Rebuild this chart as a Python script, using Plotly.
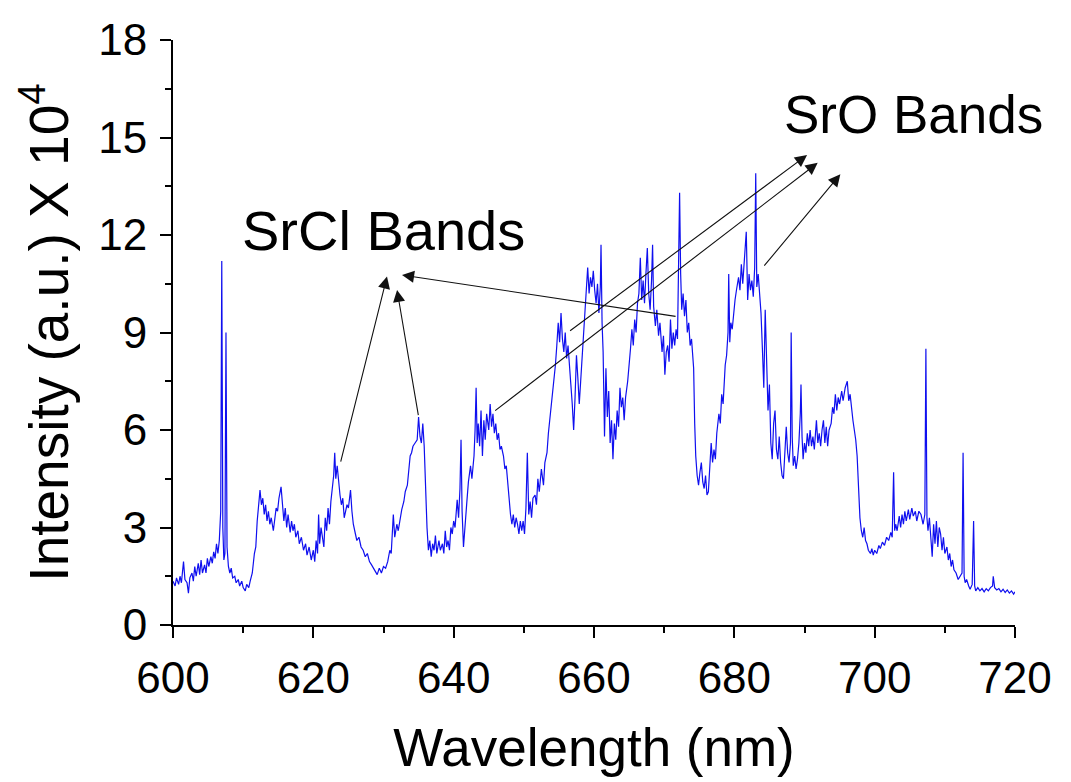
import plotly.graph_objects as go

wavelength = [
600.0,600.3,600.5,600.8,601.0,601.2,601.5,601.7,602.0,602.2,602.4,602.7,602.9,603.1,603.3,603.6,603.8,604.0,604.2,604.5,
604.7,604.9,605.1,605.4,605.6,605.8,606.0,606.2,606.4,606.6,606.8,606.95,607.1,607.25,607.4,607.55,607.7,607.9,608.1,608.3,
608.5,608.8,609.0,609.3,609.5,609.8,610.0,610.3,610.5,610.8,611.0,611.3,611.6,611.8,612.0,612.2,612.4,612.6,612.8,613.0,
613.2,613.4,613.6,613.8,614.0,614.3,614.5,614.7,614.9,615.1,615.4,615.6,615.8,616.0,616.2,616.4,616.7,616.9,617.1,617.3,
617.5,617.8,618.0,618.3,618.6,618.9,619.1,619.4,619.7,620.0,620.2,620.4,620.6,620.75,620.9,621.1,621.3,621.5,621.7,621.9,
622.1,622.3,622.5,622.7,622.9,623.05,623.2,623.4,623.6,623.8,624.0,624.2,624.4,624.6,624.8,625.0,625.3,625.5,625.7,626.0,
626.2,626.5,626.8,627.1,627.4,627.7,628.0,628.3,628.6,628.9,629.1,629.4,629.7,630.0,630.3,630.6,630.9,631.1,631.4,631.6,
631.9,632.1,632.4,632.6,632.9,633.1,633.4,633.6,633.8,634.0,634.2,634.5,634.8,635.0,635.2,635.4,635.6,635.8,636.0,636.2,
636.4,636.6,636.8,637.0,637.2,637.4,637.6,637.9,638.1,638.4,638.6,638.8,639.0,639.2,639.4,639.6,639.8,640.0,640.2,640.5,
640.7,640.9,641.05,641.2,641.4,641.6,641.9,642.1,642.4,642.6,642.9,643.05,643.2,643.35,643.5,643.7,643.9,644.1,644.3,644.5,
644.7,645.0,645.2,645.4,645.6,645.8,646.0,646.2,646.4,646.6,646.8,647.1,647.3,647.5,647.7,647.9,648.1,648.3,648.5,648.7,
648.9,649.1,649.3,649.5,649.7,649.9,650.1,650.3,650.5,650.7,650.9,651.1,651.3,651.6,651.8,652.0,652.2,652.5,652.8,653.0,
653.3,653.5,653.8,654.0,654.25,654.5,654.7,654.9,655.1,655.3,655.5,655.7,655.9,656.1,656.3,656.5,656.7,656.9,657.1,657.3,
657.5,657.7,657.9,658.1,658.3,658.5,658.7,658.9,659.1,659.3,659.5,659.7,659.9,660.1,660.3,660.5,660.7,660.9,661.0,661.15,
661.3,661.5,661.7,661.9,662.1,662.3,662.5,662.7,662.9,663.1,663.3,663.5,663.7,663.9,664.1,664.3,664.5,664.8,665.0,665.2,
665.4,665.6,665.8,666.0,666.2,666.4,666.6,666.8,667.0,667.2,667.4,667.6,667.8,668.0,668.2,668.35,668.5,668.75,668.95,669.2,
669.4,669.7,669.9,670.1,670.3,670.5,670.7,670.9,671.1,671.3,671.5,671.7,671.9,672.05,672.2,672.35,672.5,672.7,672.9,673.1,
673.3,673.5,673.7,673.9,674.0,674.2,674.35,674.5,674.7,674.9,675.1,675.3,675.5,675.7,675.9,676.1,676.3,676.5,676.7,676.9,
677.1,677.3,677.5,677.8,678.0,678.2,678.4,678.7,678.9,679.1,679.2,679.35,679.5,679.7,679.9,680.1,680.3,680.6,680.8,681.0,
681.2,681.4,681.7,681.9,682.1,682.3,682.5,682.7,682.9,683.05,683.2,683.4,683.6,683.8,684.0,684.2,684.4,684.6,684.8,685.0,
685.2,685.4,685.6,685.8,686.0,686.2,686.4,686.6,686.8,687.0,687.2,687.4,687.6,687.8,688.0,688.1,688.25,688.4,688.6,688.8,
689.0,689.2,689.4,689.5,689.65,689.8,690.0,690.2,690.4,690.6,690.8,691.0,691.2,691.4,691.7,691.9,692.1,692.3,692.5,692.7,
692.9,693.1,693.3,693.5,693.8,694.0,694.2,694.4,694.6,694.8,695.0,695.3,695.5,695.8,696.1,696.3,696.5,696.7,696.9,697.1,
697.3,697.5,697.7,697.9,698.1,698.3,698.5,698.7,698.9,699.1,699.4,699.6,699.8,700.0,700.3,700.6,700.8,701.1,701.4,701.7,
702.0,702.3,702.5,702.7,702.85,703.0,703.2,703.5,703.7,703.9,704.1,704.3,704.5,704.8,705.0,705.3,705.5,705.8,706.0,706.3,
706.6,706.9,707.15,707.3,707.45,707.6,707.8,708.0,708.2,708.4,708.6,708.8,709.0,709.2,709.4,709.6,709.8,710.0,710.3,710.5,
710.7,710.9,711.1,711.3,711.6,711.9,712.2,712.45,712.6,712.75,712.9,713.1,713.4,713.6,713.9,714.1,714.25,714.4,714.7,715.0,
715.3,715.6,715.9,716.2,716.5,716.8,716.9,717.1,717.4,717.7,718.0,718.3,718.6,718.9,719.2,719.5,719.8,720.0,
]

intensity = [
1.35,1.2,1.45,1.25,1.5,1.3,1.95,1.4,1.3,0.98,1.45,1.6,1.35,1.8,1.5,1.9,1.55,2.0,1.6,1.85,
1.6,2.05,1.8,2.1,1.9,2.25,2.05,2.5,2.2,2.6,3.5,11.2,3.0,2.0,2.2,9.0,2.4,1.8,1.6,1.75,
1.45,1.5,1.3,1.4,1.2,1.35,1.15,1.05,1.25,1.15,1.35,1.6,2.2,2.4,3.2,3.8,4.15,3.7,3.9,3.4,
3.7,3.2,3.5,3.1,3.3,2.9,3.3,3.6,3.5,3.9,4.25,3.7,3.2,3.6,3.0,3.4,2.85,3.2,2.9,3.1,
2.7,2.9,2.5,2.7,2.3,2.5,2.15,2.4,2.0,2.3,1.95,2.6,2.2,3.4,2.5,3.0,2.7,2.4,3.3,2.9,
3.6,3.1,3.8,4.2,4.6,5.3,4.5,4.9,4.3,4.0,3.7,3.9,3.3,3.5,3.7,3.6,4.15,3.5,3.1,2.8,
2.6,2.7,2.4,2.3,2.1,2.2,1.95,1.85,1.75,1.65,1.55,1.75,1.6,1.8,1.75,1.95,2.3,2.2,3.4,2.7,
3.1,2.9,3.3,3.55,3.8,4.1,4.3,4.7,5.2,5.3,5.5,5.6,5.7,6.4,5.8,5.6,6.2,5.5,4.2,3.0,
2.3,2.6,2.1,2.5,2.3,2.75,2.2,2.6,2.3,2.5,2.2,2.9,2.4,2.6,2.3,3.0,2.8,3.2,3.0,3.85,
3.3,4.2,5.7,3.5,2.4,3.1,3.85,4.4,4.9,4.5,5.2,6.0,7.3,5.6,6.2,5.5,6.6,5.2,6.3,5.7,
6.5,6.0,6.8,6.1,6.5,5.9,6.2,5.7,5.9,5.4,5.5,5.2,4.8,4.9,4.3,3.8,3.4,3.1,3.4,3.0,
3.3,3.1,2.8,3.2,2.9,3.2,2.8,3.6,5.3,3.4,3.8,3.3,3.9,4.0,3.7,4.5,4.1,4.8,4.3,5.0,
5.3,5.9,6.5,6.9,7.3,8.0,8.6,9.3,8.7,9.6,8.8,8.4,9.0,8.2,8.6,7.8,7.4,6.8,6.0,7.0,
8.3,7.6,6.8,7.5,8.2,8.9,9.8,10.6,11.0,10.2,10.7,10.4,10.9,10.3,9.9,10.5,9.6,10.4,11.7,9.3,
8.4,5.8,7.9,6.4,7.2,5.6,6.3,5.1,6.2,5.7,6.6,6.1,7.3,6.7,7.0,6.3,7.0,7.5,7.9,8.5,
9.1,8.6,9.4,9.0,9.9,10.2,11.3,10.0,10.6,9.9,10.8,11.6,10.2,9.7,10.6,11.7,9.8,9.2,9.7,8.9,
9.3,8.4,8.9,7.7,8.4,8.6,8.1,9.4,8.5,9.0,8.6,9.1,8.8,10.5,13.3,10.8,9.7,10.2,9.5,10.0,
9.0,9.3,8.6,8.8,8.4,7.9,6.2,5.2,4.6,4.3,4.7,5.0,4.4,4.2,4.6,4.0,4.1,4.8,5.6,5.0,
5.4,5.1,5.9,6.5,6.2,7.1,6.8,8.0,8.3,9.0,10.8,8.7,9.3,9.1,9.7,10.0,10.3,10.7,10.3,11.1,
10.5,11.2,12.1,10.0,10.8,10.3,10.6,10.1,11.0,13.9,10.4,10.8,10.2,9.6,8.5,7.3,9.7,7.8,6.6,7.4,
5.6,5.1,6.2,6.6,5.4,5.1,5.8,5.0,4.6,4.5,5.4,6.1,5.3,5.0,5.6,9.0,5.8,4.9,5.2,4.8,
5.1,5.6,6.5,7.4,5.8,5.1,5.6,5.3,5.9,5.5,6.0,5.5,5.8,5.4,6.3,5.6,5.9,5.5,6.0,6.3,
5.6,6.1,5.5,6.0,6.2,6.7,6.5,7.1,6.6,7.0,6.8,7.2,6.9,7.3,7.5,6.9,7.1,6.6,6.3,6.0,
5.7,5.2,4.3,3.3,2.9,2.7,3.0,2.6,2.5,2.3,2.2,2.35,2.15,2.3,2.2,2.45,2.35,2.55,2.45,2.7,
2.6,2.85,2.7,4.7,2.9,3.1,2.9,3.35,3.0,3.4,3.1,3.5,3.2,3.55,3.25,3.6,3.35,3.5,3.2,3.5,
3.4,3.1,3.4,8.5,3.3,2.9,3.3,2.8,2.1,3.1,2.5,3.2,2.4,3.0,2.8,2.3,2.7,2.2,2.4,2.0,
2.2,1.8,2.0,1.7,1.6,1.4,1.5,1.6,5.3,1.5,1.3,1.4,1.2,1.1,1.25,3.2,1.2,1.05,1.15,1.05,
1.12,1.02,1.12,1.05,1.15,1.2,1.5,1.15,1.08,1.12,1.02,1.1,1.0,1.08,0.98,1.05,0.95,1.02,
]

x_ticks = [600, 620, 640, 660, 680, 700, 720]
y_ticks = [0, 3, 6, 9, 12, 15, 18]

# arrows: (head_x, head_y, tail_x, tail_y)
srcl_arrows = [(630.5, 10.72, 623.85, 4.98), (631.93, 10.31, 635.0, 6.41), (632.64, 10.77, 671.84, 9.49)]
sro_arrows = [(690.37, 14.46, 656.38, 9.02), (691.88, 14.22, 645.70, 6.56), (695.11, 13.87, 684.09, 11.01)]

FONT = "Liberation Sans, Arial, sans-serif"

fig = go.Figure()
fig.add_trace(go.Scatter(x=wavelength, y=intensity, mode="lines",
                         line=dict(color="#0f0fef", width=1.2), showlegend=False))

annotations = []
for hx, hy, tx, ty in srcl_arrows + sro_arrows:
    annotations.append(dict(x=hx, y=hy, ax=tx, ay=ty, xref="x", yref="y", axref="x", ayref="y",
                            showarrow=True, arrowhead=2, arrowsize=2.2, arrowwidth=1.1,
                            arrowcolor="#111111", text=""))
annotations.append(dict(x=630.0, y=12.15, xref="x", yref="y", text="SrCl Bands", showarrow=False,
                        font=dict(family=FONT, size=56, color="black")))
annotations.append(dict(x=705.5, y=15.7, xref="x", yref="y", text="SrO Bands", showarrow=False,
                        font=dict(family=FONT, size=53, color="black")))

fig.update_layout(
    width=1071, height=782,
    margin=dict(l=173, r=56, t=40, b=157),
    paper_bgcolor="white", plot_bgcolor="white",
    font=dict(family=FONT, color="black"),
    annotations=annotations,
    xaxis=dict(range=[600, 720], tickvals=x_ticks, ticks="outside", ticklen=11, tickwidth=2,
               tickcolor="black", showline=True, linecolor="black", linewidth=2, showgrid=False,
               zeroline=False, tickfont=dict(size=44), ticklabelstandoff=2,
               minor=dict(dtick=10, ticks="outside", ticklen=6, tickwidth=2, tickcolor="black", showgrid=False),
               title=dict(text="Wavelength (nm)", font=dict(size=53), standoff=28)),
    yaxis=dict(range=[0, 18], tickvals=y_ticks, ticks="outside", ticklen=11, tickwidth=2,
               tickcolor="black", showline=True, linecolor="black", linewidth=2, showgrid=False,
               zeroline=False, tickfont=dict(size=44), ticklabelstandoff=4,
               minor=dict(dtick=1.5, ticks="outside", ticklen=6, tickwidth=2, tickcolor="black", showgrid=False),
               title=dict(text="Intensity (a.u.) X 10<sup>4</sup>", font=dict(size=55), standoff=12)),
)

fig.write_html("out.html")
